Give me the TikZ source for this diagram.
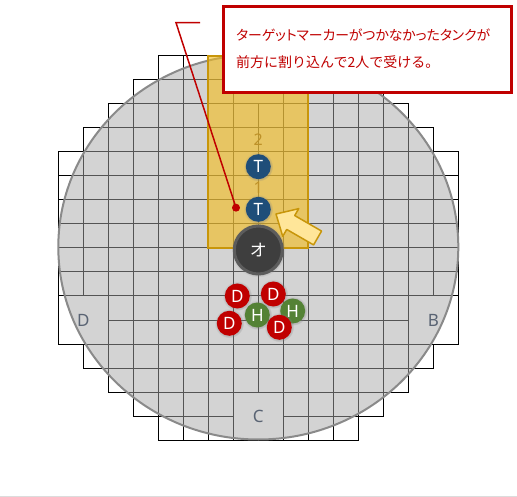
\documentclass[tikz,border=0pt]{standalone}
\usepackage{fontspec}
\setmainfont{Noto Sans}
\newfontfamily\jpfont[RawFeature=+palt]{Noto Sans CJK JP}
\newfontfamily\jpplain{Noto Sans CJK JP}
\usetikzlibrary{shadows}
\definecolor{circfill}{RGB}{168,168,168}
\definecolor{circedge}{RGB}{138,138,138}
\definecolor{goldfill}{RGB}{245,188,25}
\definecolor{goldedge}{RGB}{200,150,10}
\definecolor{goldtext}{RGB}{190,145,40}
\definecolor{tblue}{RGB}{31,78,121}
\definecolor{dred}{RGB}{192,0,0}
\definecolor{hgreen}{RGB}{84,130,53}
\definecolor{ogray}{RGB}{62,62,62}
\definecolor{oedge}{RGB}{92,92,92}
\definecolor{arrowfill}{RGB}{255,230,153}
\definecolor{labelgray}{RGB}{89,99,115}
\definecolor{framegray}{RGB}{220,220,220}
\tikzset{
  cellline/.style={draw=black, line width=1pt},
  gridlabel/.style={text=labelgray, font=\fontsize{17}{17}\selectfont, inner sep=0pt},
  ranklabel/.style={text=goldtext, font=\fontsize{16}{16}\selectfont, inner sep=0pt},
  token/.style={circle, minimum size=25pt, inner sep=0pt, text=white,
    font=\fontsize{17}{17}\selectfont,
    circular drop shadow={shadow xshift=0pt, shadow yshift=0pt, shadow scale=1.18, opacity=0.35}},
  ttoken/.style={token, fill=tblue},
  dtoken/.style={token, fill=dred},
  htoken/.style={token, fill=hgreen},
  otoken/.style={circle, minimum size=48pt, inner sep=0pt, text=white, fill=ogray,
    draw=oedge, line width=3pt, font=\jpplain\fontsize{17}{17}\selectfont,
    circular drop shadow={shadow xshift=0pt, shadow yshift=0pt, shadow scale=1.14, opacity=0.4}},
  leader/.style={draw=dred, line width=1.5pt},
  notebox/.style={draw=dred, line width=2.5pt, fill=white, minimum width=288pt,
    minimum height=86pt, inner sep=0pt},
  notetext/.style={text=dred, align=left, inner sep=0pt,
    font=\fontsize{14}{27}\selectfont},
  bigarrow/.style={fill=arrowfill, draw=goldedge, line width=1.5pt, line join=round}
}
\begin{document}
\begin{tikzpicture}[x=1pt,y=-1pt]
\useasboundingbox (0,0) rectangle (517,497);
% grid cells
\foreach \r/\a/\b in {0/4/11,1/3/12,2/2/13,3/1/14,4/0/15,5/0/15,6/0/15,7/0/15,
  8/0/15,9/0/15,10/0/15,11/0/15,12/1/14,13/2/13,14/3/12,15/4/11}{
  \foreach \c in {\a,...,\b}{
    \draw[cellline] ({58.3+25*\c},{56+24*\r}) rectangle +(25,24);
  }
}
% merged cells (A, C, D, B)
\foreach \c/\r in {7/0,7/14,0/10,14/10}{
  \fill[white] ({58.3+25*\c+0.5},{56+24*\r+0.5}) rectangle +(49,47);
}
% arena
\fill[circfill, opacity=0.5] (258.3,247) ellipse [x radius=200pt, y radius=192.5pt];
\draw[circedge, line width=2pt] (258.3,247) ellipse [x radius=200pt, y radius=192.5pt];
% highlighted lane
\filldraw[fill=goldfill, fill opacity=0.6, draw=goldedge, line width=2pt]
  (208.3,56) rectangle (308.3,248);
% labels
\node[gridlabel] (labD) at (83.3,320) {D};
\node[gridlabel] (labB) at (433.3,320) {B};
\node[gridlabel] (labC) at (258.3,416) {C};
\node[ranklabel] (rank2) at (258.3,140) {2};
\node[ranklabel] (rank1) at (258.3,188) {1};
% arrow
\begin{scope}[shift={(276,214)}, rotate=-30]
  \draw[bigarrow] (0,0) -- (17,16) -- (17,8) -- (48,8) -- (48,-8) -- (17,-8) -- (17,-16) -- cycle;
\end{scope}
% tokens
\node[ttoken] (T2) at (258.3,166.7) {T};
\node[ttoken] (T1) at (258.3,209.3) {T};
\node[otoken] (O) at (258.3,250) {オ};
\node[dtoken] (D1) at (237.3,296) {D};
\node[dtoken] (D2) at (273.3,294) {D};
\node[dtoken] (D3) at (229.3,323.3) {D};
\node[htoken] (H1) at (257.3,315) {H};
\node[htoken] (H2) at (292.7,311) {H};
\node[dtoken] (D4) at (279.3,327.3) {D};
% marker dot and leader
\node[circle, fill=dred, minimum size=8pt, inner sep=0pt] (dot) at (236,207.7) {};
\coordinate (lead0) at (200,22.7);
\coordinate (lead1) at (176,22.7);
\draw[leader] (lead0) -- (lead1) -- (dot.center);
% callout
\node[notebox] (note) at (367.5,49.3) {};
\node[notetext, anchor=west] (notetxt) at (236,48.5)
  {{\jpfont\fontsize{13.8}{27}\selectfont ターゲットマーカーがつかなかったタンクが}\\
   {\jpplain 前方に割り込んで2人で受ける。}};
% frame line
\draw[framegray, line width=1pt] (0,496.5) -- (517,496.5);
\end{tikzpicture}
\end{document}
